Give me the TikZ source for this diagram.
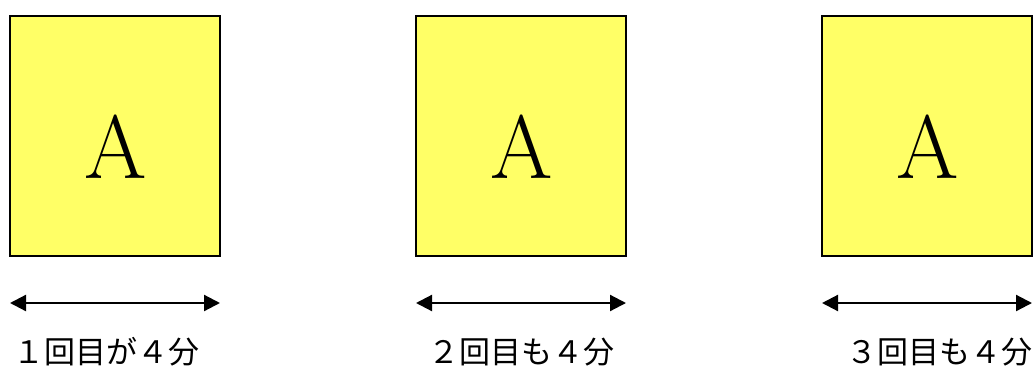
\documentclass[tikz,border=0pt]{standalone}
\usepackage{fontspec}
\newfontfamily\cjk{Noto Sans CJK JP}
\usetikzlibrary{arrows.meta}
\begin{document}
\begin{tikzpicture}[x=1pt,y=-1pt,
  card/.style={draw=black,line width=2pt,fill={rgb,255:red,255;green,255;blue,102},minimum width=210pt,minimum height=240pt,inner sep=0pt},
  big/.style={font=\fontsize{90}{90}\selectfont,inner sep=0pt},
  span/.style={{Triangle[length=16pt,width=16pt]}-{Triangle[length=16pt,width=16pt]},line width=2.2pt},
  lbl/.style={font=\cjk\fontsize{31}{34}\selectfont,inner sep=0pt}]
\useasboundingbox (0,0) rectangle (1035,367);
\node[card] (b1) at (115,136) {};
\node[card] (b2) at (521,136) {};
\node[card] (b3) at (927,136) {};
\node[big] (a1) at (116,147) {A};
\node[big] (a2) at (522,147) {A};
\node[big] (a3) at (928,147) {A};
\coordinate (l1) at (10,303); \coordinate (r1) at (220,303);
\coordinate (l2) at (416,303); \coordinate (r2) at (626,303);
\coordinate (l3) at (822,303); \coordinate (r3) at (1032,303);
\draw[span] (l1) -- (r1);
\draw[span] (l2) -- (r2);
\draw[span] (l3) -- (r3);
\node[lbl] (t1) at (106,352) {１回目が４分};
\node[lbl] (t2) at (521,352) {２回目も４分};
\node[lbl] (t3) at (939,352) {３回目も４分};
\end{tikzpicture}
\end{document}
